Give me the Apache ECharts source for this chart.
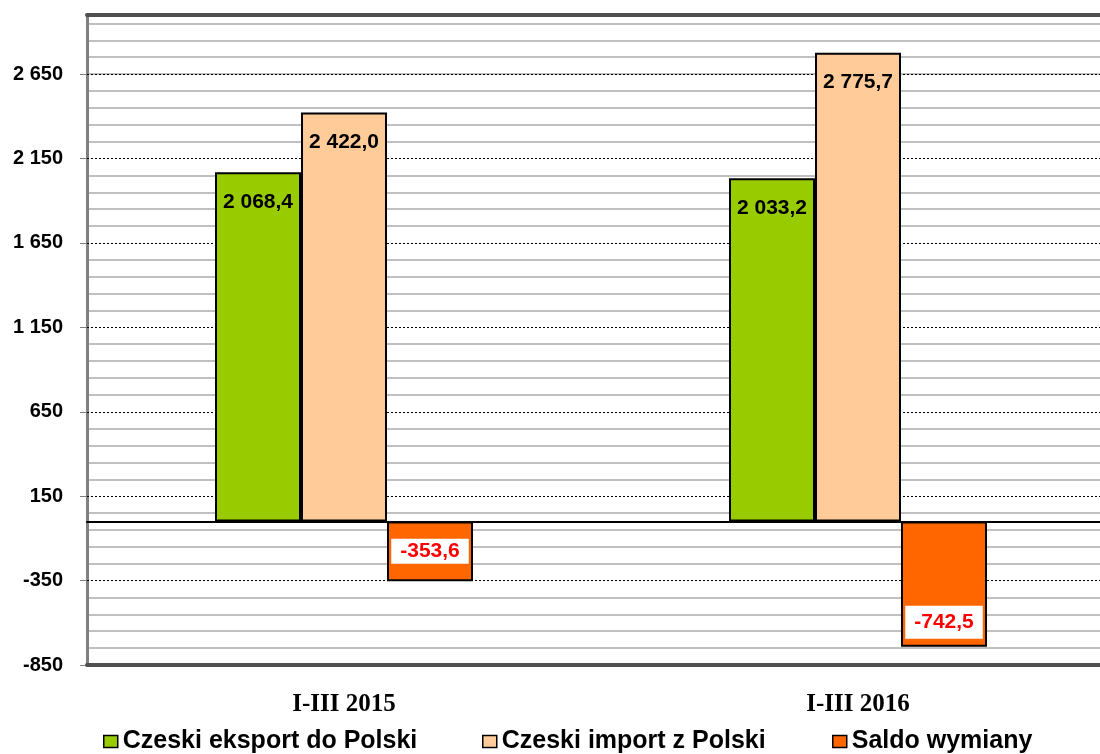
<!DOCTYPE html>
<html>
<head>
<meta charset="utf-8">
<script src="https://cdn.jsdelivr.net/npm/echarts@6/dist/echarts.min.js"></script>
<style>
html,body{margin:0;padding:0;background:#fff;overflow:hidden;width:1100px;height:754px;}
#chart{width:1120px;height:754px;}
</style>
</head>
<body>
<div id="chart"></div>
<script>
const categories = ['I-III 2015', 'I-III 2016'];
const seriesNames = ['Czeski eksport do Polski', 'Czeski import z Polski', 'Saldo wymiany'];
const exportValues = [2068.4, 2033.2];
const importValues = [2422.0, 2775.7];
const balanceValues = [-353.6, -742.5];
const tickValues = [-850, -350, 150, 650, 1150, 1650, 2150, 2650];
const tickLabels = ['-850', '-350', '150', '650', '1 150', '1 650', '2 150', '2 650'];
const axisMin = -850, axisMax = 3000;

function fmtVal(v) {
  const neg = v < 0;
  const parts = Math.abs(v).toFixed(1).split('.');
  const intPart = parts[0].replace(/\B(?=(\d{3})+(?!\d))/g, ' ');
  return (neg ? '-' : '') + intPart + ',' + parts[1];
}
function fmtTick(v) {
  const i = tickValues.indexOf(Math.round(v));
  return i >= 0 ? tickLabels[i] : '';
}

const chart = echarts.init(document.getElementById('chart'), null, {renderer: 'canvas'});
const sans = "'Liberation Sans', Arial, sans-serif";
const posLabel = {
  show: true, position: 'insideTop', distance: 19,
  formatter: p => fmtVal(p.value),
  fontFamily: sans, fontWeight: 'bold', fontSize: 21, color: '#000'
};
const negLabelBase = {
  show: true, formatter: p => fmtVal(p.value),
  fontFamily: sans, fontWeight: 'bold', fontSize: 21, color: '#FF0000',
  backgroundColor: '#fff'
};
const barStyle = c => ({color: c, borderColor: '#000', borderWidth: 2});

chart.setOption({
  backgroundColor: '#fff',
  animation: false,
  grid: {left: 87, top: 15, right: 5, bottom: 89, show: false},
  legend: [
    {data: [seriesNames[0]], left: 98, top: 724},
    {data: [seriesNames[1]], left: 477, top: 724},
    {data: [seriesNames[2]], left: 827, top: 724}
  ].map(l => Object.assign(l, {
    icon: 'rect', itemWidth: 14, itemHeight: 12, selectedMode: false,
    itemStyle: {borderColor: '#000', borderWidth: 1.5},
    textStyle: {fontFamily: sans, fontWeight: 'bold', fontSize: 25, color: '#000'}
  })),
  xAxis: [
    {
      type: 'category', data: categories, position: 'bottom', z: 3,
      axisLine: {show: true, onZero: false, lineStyle: {color: '#505050', width: 4}},
      axisTick: {show: false},
      axisLabel: {margin: 27, fontFamily: "'Liberation Serif', 'Times New Roman', serif", fontWeight: 'bold', fontSize: 25, color: '#000'},
      splitLine: {show: false}
    },
    {
      type: 'category', data: categories, position: 'bottom', z: 3,
      axisLine: {show: true, onZero: true, lineStyle: {color: '#000', width: 2}},
      axisTick: {show: false}, axisLabel: {show: false}, splitLine: {show: false}
    },
    {
      type: 'category', data: categories, position: 'top', z: 3,
      axisLine: {show: true, onZero: false, lineStyle: {color: '#505050', width: 4}},
      axisTick: {show: false}, axisLabel: {show: false}, splitLine: {show: false}
    }
  ],
  yAxis: [
    {
      type: 'value', min: axisMin, max: axisMax, interval: 500, z: 1,
      axisLine: {show: true, onZero: false, lineStyle: {color: '#808080', width: 3}},
      axisTick: {show: true, length: 7, customValues: tickValues, lineStyle: {color: '#808080', width: 1}},
      axisLabel: {margin: 24, customValues: tickValues, formatter: fmtTick, fontFamily: sans, fontWeight: 'bold', fontSize: 20, color: '#000'},
      splitLine: {show: true, showMinLine: false, showMaxLine: false, lineStyle: {color: '#fff', width: 2}}
    },
    {
      type: 'value', min: axisMin, max: axisMax, interval: 100, position: 'left', z: 0,
      axisLine: {show: false}, axisTick: {show: false}, axisLabel: {show: false},
      splitLine: {show: true, showMinLine: false, showMaxLine: false, lineStyle: {color: '#C0C0C0', width: 2}}
    },
    {
      type: 'value', min: axisMin, max: axisMax, interval: 500, position: 'left', z: 1.5,
      axisLine: {show: false}, axisTick: {show: false}, axisLabel: {show: false},
      splitLine: {show: true, showMinLine: false, showMaxLine: false, lineStyle: {color: '#000', width: 1, type: [2, 2]}}
    }
  ],
  series: [
    {
      name: seriesNames[0], type: 'bar', xAxisIndex: 0, yAxisIndex: 0,
      data: exportValues, barWidth: 86, barGap: '0%',
      itemStyle: barStyle('#99CC00'), label: posLabel
    },
    {
      name: seriesNames[1], type: 'bar', xAxisIndex: 0, yAxisIndex: 0,
      data: importValues, barWidth: 86, barGap: '0%',
      itemStyle: barStyle('#FFCC99'), label: posLabel
    },
    {
      name: seriesNames[2], type: 'bar', xAxisIndex: 0, yAxisIndex: 0,
      barWidth: 86, barGap: '0%',
      itemStyle: barStyle('#FF6600'),
      data: [
        {value: balanceValues[0], label: Object.assign({}, negLabelBase, {position: 'inside', padding: [2, 9]})},
        {value: balanceValues[1], label: Object.assign({}, negLabelBase, {position: 'insideBottom', distance: 8, padding: [6, 9]})}
      ]
    }
  ]
});
</script>
</body>
</html>
